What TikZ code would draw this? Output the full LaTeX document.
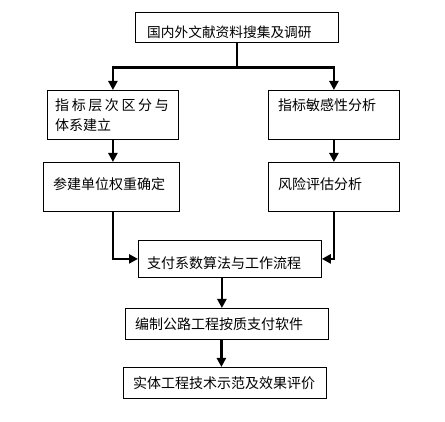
\documentclass[tikz,border=0pt]{standalone}
\usepackage{fontspec}
\newfontfamily\cjk{Noto Sans CJK SC}
\usetikzlibrary{arrows.meta}
\newcommand{\gapch}{\hspace{2.6pt}}
\begin{document}
\begin{tikzpicture}[x=1pt,y=-1pt,
  box/.style={draw,line width=0.8pt,inner sep=0pt,anchor=north west},
  txt/.style={anchor=west,inner sep=0pt,align=left,font=\cjk\fontsize{14pt}{20pt}\selectfont},
  link/.style={line width=2.7pt},
  arr/.style={line width=2.7pt,-{Triangle[length=9pt,width=9pt]}}]
\useasboundingbox[fill=white] (0,0) rectangle (445,422);
% boxes
\node[box,minimum width=203pt,minimum height=30pt] (b1) at (135,12) {};
\node[box,minimum width=131pt,minimum height=49pt] (b2) at (47,90) {};
\node[box,minimum width=131pt,minimum height=49pt] (b3) at (268,90) {};
\node[box,minimum width=136pt,minimum height=49pt] (b4) at (43,162) {};
\node[box,minimum width=131pt,minimum height=49pt] (b5) at (268,162) {};
\node[box,minimum width=183pt,minimum height=37pt] (b6) at (138,240) {};
\node[box,minimum width=203pt,minimum height=31pt] (b7) at (125,308) {};
\node[box,minimum width=203pt,minimum height=31pt] (b8) at (123,367) {};
% texts
\node[txt,font=\cjk\fontsize{13.7pt}{20pt}\selectfont] (t1) at (147,32) {国内外文献资料搜集及调研};
\node[txt] (t2) at (55,115) {指\gapch 标\gapch 层\gapch 次\gapch 区\gapch 分\gapch 与\\体系建立};
\node[txt] (t3) at (278,105) {指标敏感性分析};
\node[txt] (t4) at (53,184) {参建单位权重确定};
\node[txt] (t5) at (278,184) {风险评估分析};
\node[txt] (t6) at (147,263) {支付系数算法与工作流程};
\node[txt] (t7) at (135,324) {编制公路工程按质支付软件};
\node[txt] (t8) at (133,383) {实体工程技术示范及效果评价};
% connectors
\coordinate (j) at ([yshift=-25pt]b1.south);
\draw[link] (b1.south) -- (j);
\draw[arr] (j) -| (b2.north);
\draw[arr] (j) -| (b3.north);
\draw[arr] (b2.south) -- (b2.south |- b4.north);
\draw[arr] (b3.south) -- (b3.south |- b5.north);
\draw[arr] (b2.south |- b4.south) |- (b6.west);
\draw[arr] (b5.south) |- (b6.east);
\draw[arr] ([xshift=-8pt]b6.south) -- ([xshift=-8pt]b6.south |- b7.north);
\draw[arr] ([xshift=-5.5pt]b7.south) -- ([xshift=-5.5pt]b7.south |- b8.north);
\end{tikzpicture}
\end{document}
